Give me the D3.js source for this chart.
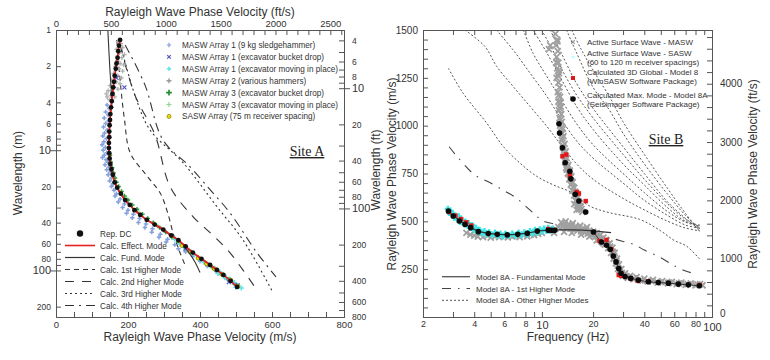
<!DOCTYPE html>
<html><head><meta charset="utf-8">
<script src="https://cdn.jsdelivr.net/npm/d3@7"></script>
<style>body{margin:0;background:#fff}svg{display:block}text{font-family:"Liberation Sans",Arial,sans-serif}</style>
</head><body><svg id="c" width="770" height="360"></svg>
<script>
// ---------------- Site A data: [velocity m/s, wavelength m] ----------------
const dcA = [[178,1.21],[175,1.35],[173,1.5],[171,1.7],[168,1.9],[166,2.1],[163,2.4],[161,2.7],[159,3.0],[157,3.4],[155,3.9],[153,4.4],[151,5.0],[150,5.6],[149,6.2],[148,7.0],[148,7.8],[147,8.7],[147,9.6],[148,10.6],[149,11.7],[151,13],[154,14.4],[158,16],[163,18.5],[170,20.5],[180,23],[192,26],[205,28.5],[218,31.5],[234,34.5],[252,37.9],[274,41.5],[298,45.7],[320,51],[340,56],[360,63],[380,71],[404,80],[428,90],[447,99],[465,109],[485,122],[503,137]];
const fundA = [[144,1],[147,1.5],[150,2.2],[153,3],[154,3.8],[152,5],[149,6.5],[147,8.5],[147,10.5],[149,12.5],[153,14.5],[158,16.5],[165,19],[175,22],[190,25.5],[205,28.5],[222,32],[245,36.5],[270,41],[295,46],[318,51],[340,56],[353,61],[368,70],[386,85],[400,104]];
const mode1A = [[169,1.21],[178,2.6],[190,5.5],[206,10.5],[250,16],[289,22.6],[310,33],[325,48.5],[342,68],[358,89.5]];
const mode2A = [[178,1.33],[219,3.47],[275,7.45],[317,20.1],[381,35.8],[428,48.5],[483,71.1],[561,150]];
const mode3A = [[183,1.47],[219,3.47],[261,6.77],[353,12.7],[447,29.5],[519,55.5],[603,153]];
const mode4A = [[192,1.33],[247,2.86],[297,8.2],[372,13.7],[428,21.3],[483,33.1],[558,71.1],[611,113]];
const masw1Hammer = [[142,4.2],[148,4.5],[138,4.8],[145,5.1],[134,5.4],[146,5.7],[138,6.0],[132,6.4],[142,6.8],[135,7.2],[130,7.6],[140,8.0],[133,8.5],[128,9.0],[137,9.5],[131,10],[141,10.5],[134,11],[129,11.5],[139,12],[144,12.6],[136,13.2],[147,13.8],[141,14.5],[151,15.2],[145,16],[154,17],[149,18],[158,19],[154,20],[161,21.5],[168,23],[164,24],[178,25.5],[173,27],[190,28],[185,30],[200,31.5],[196,33.5],[215,34],[212,36.5],[232,37],[229,40],[250,41],[247,44],[268,45],[266,48],[290,50],[286,53],[310,55],[306,58],[330,61],[340,66],[360,70],[380,76],[400,84],[420,92],[445,102],[470,115],[495,130]];
const masw1Bucket = [[190,3.0],[168,2.5],[480,125],[505,133],[360,66]];
const masw1Moving = [[330,55],[345,60],[355,64],[370,68],[385,74],[398,80],[410,85],[425,90],[440,96],[455,103],[468,110],[482,118],[495,126],[505,133],[515,140],[500,138],[490,125],[470,115],[450,106]];
const masw2 = [[172,1.25],[180,1.3],[185,1.4],[168,1.45],[176,1.55],[190,1.6],[183,1.7],[170,1.8],[178,1.9],[188,1.95],[165,2.0],[175,2.1],[185,2.2],[160,2.3],[172,2.4],[182,2.5],[155,2.6],[168,2.7],[178,2.8],[150,2.9],[162,3.0],[172,3.1],[145,3.2],[158,3.3],[140,3.4],[152,3.5],[163,3.6],[148,3.8],[156,4.0],[142,3.6]];
const masw3Bucket = [[150,11],[152,12.5],[156,14],[160,15.5],[164,17],[168,18.5],[174,20],[182,22],[190,24],[200,26],[212,28.5],[225,31],[240,34],[255,37],[270,40],[288,44],[305,48],[322,53],[340,58],[358,64],[375,70],[395,78],[415,86],[435,95],[455,105],[478,118],[500,132]];
const masw3Moving = [[160,17],[195,25],[230,33],[280,42],[330,54],[372,69],[410,83]];
const saswA = [[350,62],[372,70],[395,79],[418,88],[440,97],[462,108],[485,120],[505,135]];

const waveTicksM = [1,2,3,4,5,6,7,8,9,10,20,30,40,50,60,70,80,90,100,200];
const waveLabelsM = [1,2,4,6,8,10,20,40,60,80,100,200];
const waveTicksFt = [4,5,6,7,8,9,10,20,30,40,50,60,70,80,90,100,200,300,400,500,600,700,800];
const waveLabelsFt = [4,6,8,10,20,40,60,80,100,200,400,600,800];
const legendA1 = ["MASW Array 1 (9 kg sledgehammer)","MASW Array 1 (excavator bucket drop)","MASW Array 1 (excavator moving in place)","MASW Array 2 (various hammers)","MASW Array 3 (excavator bucket drop)","MASW Array 3 (excavator moving in place)","SASW Array (75 m receiver spacing)"];
const legendA2 = ["Rep. DC","Calc. Effect. Mode","Calc. Fund. Mode","Calc. 1st Higher Mode","Calc. 2nd Higher Mode","Calc. 3rd Higher Mode","Calc. 4th Higher Mode"];

// ---------------- Site B data: [frequency Hz, velocity m/s] ----------------
const maxModeB = [[2.82,554],[3.01,528],[3.27,502],[3.53,484],[3.81,467],[4.23,446],[4.84,436],[5.47,432],[6.26,429],[7.21,432],[8.21,437],[9.4,449],[10.9,453],[11.4,453],[11.9,453],
 [12.6,1010],[12.7,962],[13.2,884],[13.7,806],[14.6,762],[14.8,722],[15.7,641],[16.5,606],[18.1,549],
 [20.1,444],[22.4,392],[24.0,375],[25.2,354],[26.3,319],[27.3,288],[28.3,253],[29.2,229],[30.8,212],[33.3,202],[36.9,193],[42.3,184],[48.3,180],[55.4,177],[63.4,172],[72.6,168],[84.2,163]];
const global3dB = [[2.85,548],[3.1,530],[3.35,512],[3.6,495],[3.85,478],[10.9,460],[13.2,840],[13.9,849],[14.6,740],[16.0,653],[16.5,646],[18.1,606],[21.8,397],[24.0,403],[25.6,354],[28.3,219],[29.3,215],[33.0,202],[36.6,189],[42.0,186],[84.8,167]];
const fundB = [[2.8,555],[3.0,530],[3.3,505],[3.6,482],[4.0,458],[4.5,442],[5,436],[6,431],[7,432],[8,437],[9,445],[10,451],[12,455],[15,455],[20,450],[25.5,441]];
const fundHighB = [[20.1,444],[22.4,392],[24.0,375],[25.2,354],[26.3,319],[27.3,288],[28.3,253],[29.2,229],[30.8,212],[33.3,202],[36.9,193],[42.3,184],[48.3,180],[55.4,177],[63.4,172],[72.6,168],[84.2,163]];
const firstHigherB = [[2.85,890],[3.2,835],[4,745],[5,700],[6,660],[7,625],[8,580],[9,540],[10,505],[12,485],[15,470],[20,440],[25,415],[30,395],[35,378],[40,350],[50,310],[60,268],[70,240],[75,232]];
const otherModesB = [
 [[2.82,1300],[3.44,1170],[4.73,1014],[5.92,892],[7.42,805],[9.3,736],[11.7,690],[15,650],[19.1,580],[25,545],[37.6,510],[50,450],[60,400],[70.7,371],[84.8,302]],
 [[3.53,1500],[4.63,1413],[5.43,1309],[6.77,1205],[8.53,1100],[10.7,996],[12.7,910],[16,800],[20,720],[30,620],[40,560],[55,500],[70,465],[85,450]],
 [[5.4,1500],[6.77,1396],[8.53,1274],[10.7,1153],[12.7,1048],[16,920],[20,830],[30,700],[40,610],[55,530],[70,480],[85,465]],
 [[7.78,1500],[8.88,1378],[10.7,1257],[12.7,1150],[16,1010],[20,900],[30,750],[40,650],[55,550],[70,495],[85,475]],
 [[8.88,1500],[10.7,1380],[12.7,1260],[16,1100],[20,980],[30,800],[40,690],[55,570],[70,500],[85,480]],
 [[9.95,1500],[11.5,1400],[13,1300],[16,1160],[20,1040],[30,850],[40,720],[55,590],[70,510],[85,470]],
 [[11.2,1500],[13,1380],[16,1220],[20,1090],[30,890],[40,750],[55,600],[70,515],[85,455]],
 [[13.95,1500],[16,1380],[20,1200],[25,1080],[30,960],[40,800],[55,640],[70,530],[85,460]],
 [[14.95,1500],[17,1400],[20,1290],[25,1150],[30,1020],[40,850],[55,670],[70,540],[85,445]]
];
const maswGrayB = [[12.0,1480],[12.3,1450],[12.1,1420],[12.4,1390],[12.2,1360],[12.5,1330],[12.3,1300],[12.6,1275],[12.2,1250],[12.5,1225],[12.7,1200],[12.4,1175],[12.8,1150],[12.5,1125],[12.9,1100],[12.6,1080],[13.0,1060],[12.7,1040],[13.1,1020],[12.8,1000],[13.3,985],[13.0,965],[13.4,945],[13.1,925],[13.6,905],[13.3,885],[13.8,865],[13.5,845],[14.0,830],[13.7,810],[14.3,795],[13.9,780],[14.6,765],[14.2,750],[14.9,735],[14.5,720],[15.2,705],[14.8,690],[15.5,675],[15.1,660],[15.9,648],[15.5,635],[16.2,622],[15.8,610],[16.6,598],[16.2,585],[16.9,575],[16.5,562],[14.0,770],[13.2,960],[12.9,1120],[12.6,1290],[11.2,1420],[11.0,1400],
 [12.35,1440],[12.15,1330],[12.45,1260],[12.55,1160],[12.75,1090],[12.85,1030],[13.0,990],[13.2,935],[13.35,895],[13.55,855],[13.8,820],[14.1,785],[14.4,755],[14.7,728],[15.0,700],[15.3,680],[15.7,655],[16.0,628],[16.4,605],[16.7,580],[17.1,565],[16.0,560],[15.5,590],[17.3,550],
 [13,495],[13.3,478],[13.6,488],[14,470],[14.3,485],[14.7,462],[15,478],[15.4,458],[15.8,472],[16.2,452],[16.6,468],[17,448],[17.4,462],[17.8,440],[18.2,458],[18.6,436],[19,452],[19.5,428],[20,446],[20.5,418],[21,438],[21.5,405],[22,428],[22.5,392],[23,415],[23.5,378],[24,400],[24.5,360],[25,385],[25.5,335],[26,362],[26.4,305],[26.8,335],[27.2,280],[27.6,305],[28,252],[28.4,275],[28.8,232],[29.3,250],[30,215],[30.8,228],[32,205],[33,215],[34.5,198],[36,208],[38,192],[40,200],[42,186],[45,194],[48,180],[51,188],[55,176],[58,184],[62,172],[66,180],[70,168],[75,176],[80,165],[85,172],[88,166],
 [13.2,470],[13.8,500],[14.5,475],[15.2,490],[16,462],[16.8,478],[17.6,455],[18.4,470],[19.2,445],[20.2,432],[21.2,425],[22.2,410],[23.2,398],[24.2,382],[25.2,368],[26.2,340],[26.6,318],[27.4,292],[27.9,268],[28.6,245],[29.5,230],[31.5,212],[35,200],[39,190],[44,188],[50,182],[56,180],[64,176],[72,172],[82,170],[12.5,470],[12,460],[11.8,440],[13.5,445],[15,440],[17,430],[19,420],[21,400],[23,385],[25,360],
 [3.6,440],[3.8,430],[4.0,425],[4.2,420],[4.5,418],[4.8,425],[5.0,415],[5.3,420],[5.6,418],[6.0,422],[6.3,416],[6.7,420],[7.0,425],[7.4,418],[7.8,428],[8.2,422],[8.6,430],[9.0,428],[9.5,435],[10,440]];
const saswCyanB = [[2.8,565],[2.85,545],[2.9,555],[3.0,540],[3.05,520],[3.1,530],[3.2,510],[3.25,525],[3.3,498],[3.4,505],[3.5,485],[3.55,498],[3.65,478],[3.7,490],[3.8,468],[3.9,478],[4.0,455],[4.1,465],[4.2,445],[4.3,455],[4.45,438],[4.6,448],[4.75,432],[4.9,442],[5.1,428],[5.3,440],[5.5,425],[5.7,436],[5.9,422],[6.1,434],[6.4,424],[6.7,436],[7.0,425],[7.3,440],[7.6,428],[7.9,442],[8.2,432],[8.5,448],[8.8,438],[9.1,455],[9.4,442],[9.7,458],[10,448],[10.3,462],[10.6,450],[10.9,465],[11.2,452],[11.5,460]];
const freqTicks = [2,3,4,5,6,7,8,9,10,20,30,40,50,60,70,80,90,100];
const freqLabels = [2,4,6,8,10,20,40,60,80,100];
const legendB1 = [["Active Surface Wave - MASW"],["Active Surface Wave - SASW","(60 to 120 m receiver spacings)"],["Calculated 3D Global - Model 8","(WinSASW Software Package)"],["Calculated Max. Mode - Model 8A","(Seisimager Software Package)"]];
const legendB2 = ["Model 8A - Fundamental Mode","Model 8A - 1st Higher Mode","Model 8A - Other Higher Modes"];

// ---------------- drawing ----------------
const FT = 3.28084;
const AX = "#555", TX = "#333";
const svg = d3.select("#c");
svg.append("rect").attr("width",770).attr("height",360).attr("fill","#fff");

function styleAxis(g){ g.select(".domain").attr("stroke",AX); g.selectAll(".tick line").attr("stroke",AX); g.selectAll("text").attr("fill",TX).style("font-size","9.5px"); }
function plus(g,data,x,y,color,s,w){ g.selectAll(null).data(data).join("path").attr("transform",d=>`translate(${x(d[0])},${y(d[1])})`).attr("d",`M${-s},0H${s}M0,${-s}V${s}`).attr("stroke",color).attr("stroke-width",w).attr("fill","none"); }
function cross(g,data,x,y,color,s,w){ g.selectAll(null).data(data).join("path").attr("transform",d=>`translate(${x(d[0])},${y(d[1])})`).attr("d",`M${-s},${-s}L${s},${s}M${-s},${s}L${s},${-s}`).attr("stroke",color).attr("stroke-width",w).attr("fill","none"); }

// ===== Panel A =====
const xA = d3.scaleLinear().domain([0,800]).range([56,344]);
const xAft = d3.scaleLinear().domain([0,800*FT]).range([56,344]);
const yA = d3.scaleLog().domain([1,800/FT]).range([30,317]);
const yAft = d3.scaleLog().domain([FT,800]).range([30,317]);
svg.append("clipPath").attr("id","clipA").append("rect").attr("x",56).attr("y",30).attr("width",288).attr("height",287);
const pA = svg.append("g").attr("clip-path","url(#clipA)");

const lineA = d3.line().x(d=>xA(d[0])).y(d=>yA(d[1])).curve(d3.curveCatmullRom);
[[mode1A,"5,4"],[mode2A,"9,8"],[mode3A,"2,3"],[mode4A,"9,5,2,5"]].forEach(([d,da])=>pA.append("path").attr("d",lineA(d)).attr("fill","none").attr("stroke","#333").attr("stroke-width",1.1).attr("stroke-dasharray",da));
plus(pA,masw1Hammer,xA,yA,"#86a0dc",2.2,1.5);
plus(pA,masw2,xA,yA,"#b0b0b0",2.2,1.3);
plus(pA,masw3Moving,xA,yA,"#8fd48f",2.2,1.3);
plus(pA,masw3Bucket,xA,yA,"#2a9a3a",2.2,1.5);
plus(pA,masw1Moving,xA,yA,"#5fe3e3",2.5,1.6);
cross(pA,masw1Bucket,xA,yA,"#5555c8",2,1.2);
pA.selectAll(null).data(saswA).join("circle").attr("cx",d=>xA(d[0])).attr("cy",d=>yA(d[1])).attr("r",2).attr("fill","#e8e000").attr("stroke","#888800").attr("stroke-width",0.8);
pA.append("path").attr("d",lineA(fundA)).attr("fill","none").attr("stroke","#333").attr("stroke-width",1.1);
pA.append("path").attr("d",lineA(dcA)).attr("fill","none").attr("stroke","#e82020").attr("stroke-width",1.8);
pA.selectAll(null).data(dcA).join("circle").attr("cx",d=>xA(d[0])).attr("cy",d=>yA(d[1])).attr("r",2.4).attr("fill","#111");

// axes A
const fmtA = (arr)=>d=>arr.includes(d)?d:"";
svg.append("g").attr("transform","translate(56,0)").call(d3.axisLeft(yA).tickValues(waveTicksM).tickSize(-5).tickPadding(5).tickFormat(fmtA(waveLabelsM))).call(styleAxis)
  .call(g=>g.selectAll(".tick text").style("font-size",d=>(d===10||d===100)?"11px":"8.5px"))
  .call(g=>g.selectAll(".tick").filter(d=>d===10||d===100).append("line").attr("x1",-6).attr("x2",0).attr("stroke",AX));
svg.append("g").attr("transform","translate(344,0)").call(d3.axisRight(yAft).tickValues(waveTicksFt).tickSize(-5).tickPadding(8).tickFormat(fmtA(waveLabelsFt))).call(styleAxis)
  .call(g=>g.selectAll(".tick text").style("font-size",d=>(d===10||d===100)?"11px":"8.5px"))
  .call(g=>g.selectAll(".tick").filter(d=>d===10||d===100).append("line").attr("x1",0).attr("x2",6).attr("stroke",AX));
svg.append("g").attr("transform","translate(0,30)").call(d3.axisTop(xAft).tickValues(d3.range(0,2601,100)).tickSize(-5).tickPadding(3).tickFormat(d=>d%500===0?d:"")).call(styleAxis);
svg.append("g").attr("transform","translate(0,317)").call(d3.axisBottom(xA).tickValues(d3.range(0,801,50)).tickSize(-5).tickPadding(4).tickFormat(d=>d%200===0?d:"")).call(styleAxis);

svg.append("text").attr("x",200).attr("y",16).attr("text-anchor","middle").attr("fill",TX).style("font-size","12px").text("Rayleigh Wave Phase Velocity (ft/s)");
svg.append("text").attr("x",200).attr("y",341).attr("text-anchor","middle").attr("fill",TX).style("font-size","12px").text("Rayleigh Wave Phase Velocity (m/s)");
svg.append("text").attr("transform","translate(22,173) rotate(-90)").attr("text-anchor","middle").attr("fill",TX).style("font-size","12px").text("Wavelength (m)");
svg.append("text").attr("transform","translate(380,170) rotate(-90)").attr("text-anchor","middle").attr("fill",TX).style("font-size","12px").text("Wavelength (ft)");

// legend A top
const lgA = svg.append("g");
legendA1.forEach((t,i)=>{
  const yy = 45 + i*11.9;
  lgA.append("text").attr("x",182).attr("y",yy+3).attr("fill",TX).style("font-size","8.2px").text(t);
});
plus(lgA,[[0,0]],()=>169,()=>45,"#8a9ae0",2.2,1.2);
cross(lgA,[[0,0]],()=>169,()=>56.9,"#5555c8",1.8,1.2);
plus(lgA,[[0,0]],()=>169,()=>68.8,"#5fe3e3",2.2,1.4);
plus(lgA,[[0,0]],()=>169,()=>80.7,"#999",2.5,1.4);
plus(lgA,[[0,0]],()=>169,()=>92.6,"#1f8a2a",2.8,1.6);
plus(lgA,[[0,0]],()=>169,()=>104.5,"#8fd48f",2.5,1.2);
lgA.append("circle").attr("cx",169).attr("cy",116.4).attr("r",2).attr("fill","#e8e000").attr("stroke","#888800").attr("stroke-width",0.8);
// legend A bottom
const lgA2 = svg.append("g");
legendA2.forEach((t,i)=>{
  const yy = 233.5 + i*12;
  lgA2.append("text").attr("x",100).attr("y",yy+3).attr("fill",TX).style("font-size","8.2px").text(t);
});
lgA2.append("circle").attr("cx",80).attr("cy",233.5).attr("r",3.2).attr("fill","#111");
[["#e82020",null,1.6],["#333",null,1.2],["#333","5,4",1.1],["#333","9,8",1.1],["#333","2,3",1.1],["#333","9,5,2,5",1.1]].forEach(([c,da,w],i)=>{
  lgA2.append("line").attr("x1",65).attr("x2",95).attr("y1",245.5+i*12).attr("y2",245.5+i*12).attr("stroke",c).attr("stroke-width",w).attr("stroke-dasharray",da);
});
svg.append("text").attr("x",307).attr("y",156).attr("text-anchor","middle").attr("fill","#222").style("font-family","'Liberation Serif','Times New Roman',serif").style("font-size","14px").style("text-decoration","underline").text("Site A");

// ===== Panel B =====
const xB = d3.scaleLog().domain([2,100]).range([423,712]);
const yB = d3.scaleLinear().domain([0,1500]).range([317,30]);
const yBft = d3.scaleLinear().domain([0,1500*FT]).range([317,30]);
svg.append("clipPath").attr("id","clipB").append("rect").attr("x",423).attr("y",30).attr("width",289).attr("height",287);
const pB = svg.append("g").attr("clip-path","url(#clipB)");
const lineB = d3.line().x(d=>xB(d[0])).y(d=>yB(d[1])).curve(d3.curveCatmullRom);
otherModesB.forEach(m=>pB.append("path").attr("d",lineB(m)).attr("fill","none").attr("stroke","#555").attr("stroke-width",1).attr("stroke-dasharray","2,2"));
pB.append("path").attr("d",lineB(firstHigherB)).attr("fill","none").attr("stroke","#444").attr("stroke-width",1.1).attr("stroke-dasharray","9,7,1.5,7");
cross(pB,maswGrayB,xB,yB,"#a0a0a0",3,1.8);
plus(pB,saswCyanB,xB,yB,"#3fe6e6",3.2,2.4);
pB.append("path").attr("d",lineB(fundB)).attr("fill","none").attr("stroke","#333").attr("stroke-width",1.2);
pB.append("path").attr("d",lineB(fundHighB)).attr("fill","none").attr("stroke","#333").attr("stroke-width",1);
pB.selectAll(null).data(global3dB).join("rect").attr("x",d=>xB(d[0])-2.2).attr("y",d=>yB(d[1])-2.2).attr("width",4.4).attr("height",4.4).attr("fill","#e01818");
pB.selectAll(null).data(maxModeB).join("circle").attr("cx",d=>xB(d[0])).attr("cy",d=>yB(d[1])).attr("r",2.8).attr("fill","#0a0a0a");

svg.append("g").attr("transform","translate(423,0)").call(d3.axisLeft(yB).tickValues(d3.range(0,1501,50)).tickSize(-5).tickPadding(5).tickFormat(d=>(d>0&&d%250===0)?d:"")).call(styleAxis).call(g=>g.selectAll("text").style("font-size","10px"));
svg.append("g").attr("transform","translate(712,0)").call(d3.axisRight(yBft).tickValues(d3.range(0,4801,200)).tickSize(-5).tickPadding(8).tickFormat(d=>d%1000===0?d:"")).call(styleAxis).call(g=>g.selectAll("text").style("font-size","10px"))
  .call(g=>g.selectAll(".tick text").filter(d=>d===0).attr("dy","-0.05em"));
svg.append("g").attr("transform","translate(0,317)").call(d3.axisBottom(xB).tickValues(freqTicks).tickSize(-5).tickPadding(4).tickFormat(fmtA(freqLabels))).call(styleAxis)
  .call(g=>g.selectAll(".tick text").style("font-size",d=>(d===10||d===100)?"11px":"9px"))
  .call(g=>g.selectAll(".tick text").filter(d=>d===100).attr("dy","0.9em"));
svg.append("g").attr("transform","translate(0,30)").call(d3.axisTop(xB).tickValues(freqTicks).tickSize(-5).tickFormat("")).call(styleAxis);
svg.append("text").attr("x",568).attr("y",341).attr("text-anchor","middle").attr("fill",TX).style("font-size","12px").text("Frequency (Hz)");
svg.append("text").attr("transform","translate(396,174) rotate(-90)").attr("text-anchor","middle").attr("fill",TX).style("font-size","12px").text("Rayleigh Wave Phase Velocity (m/s)");
svg.append("text").attr("transform","translate(757,174) rotate(-90)").attr("text-anchor","middle").attr("fill",TX).style("font-size","12px").text("Rayleigh Wave Phase Velocity (ft/s)");

const lgB = svg.append("g");
const rowsY = [[42],[52.7,61.7],[71.7,80.5],[95,103.7]];
legendB1.forEach((lines,i)=>lines.forEach((t,j)=>lgB.append("text").attr("x",587).attr("y",rowsY[i][j]+3).attr("fill",TX).style("font-size","8px").text(t)));
cross(lgB,[[0,0]],()=>573,()=>42,"#999",1.8,1.2);
plus(lgB,[[0,0]],()=>573,()=>57,"#9ff",1.5,1);
lgB.append("rect").attr("x",571).attr("y",76).attr("width",4).attr("height",4).attr("fill","#e01818");
lgB.append("circle").attr("cx",573).attr("cy",99).attr("r",2.8).attr("fill","#0a0a0a");
const lgB2 = svg.append("g");
legendB2.forEach((t,i)=>lgB2.append("text").attr("x",476).attr("y",276.7+i*11.8+3).attr("fill",TX).style("font-size","8px").text(t));
[["#555",null,1.3],["#444","9,7,1.5,7",1.1],["#555","2,2",1]].forEach(([c,da,w],i)=>lgB2.append("line").attr("x1",442).attr("x2",470).attr("y1",276.7+i*11.8).attr("y2",276.7+i*11.8).attr("stroke",c).attr("stroke-width",w).attr("stroke-dasharray",da));
svg.append("text").attr("x",666).attr("y",144).attr("text-anchor","middle").attr("fill","#222").style("font-family","'Liberation Serif','Times New Roman',serif").style("font-size","14px").style("text-decoration","underline").text("Site B");
</script></body></html>
